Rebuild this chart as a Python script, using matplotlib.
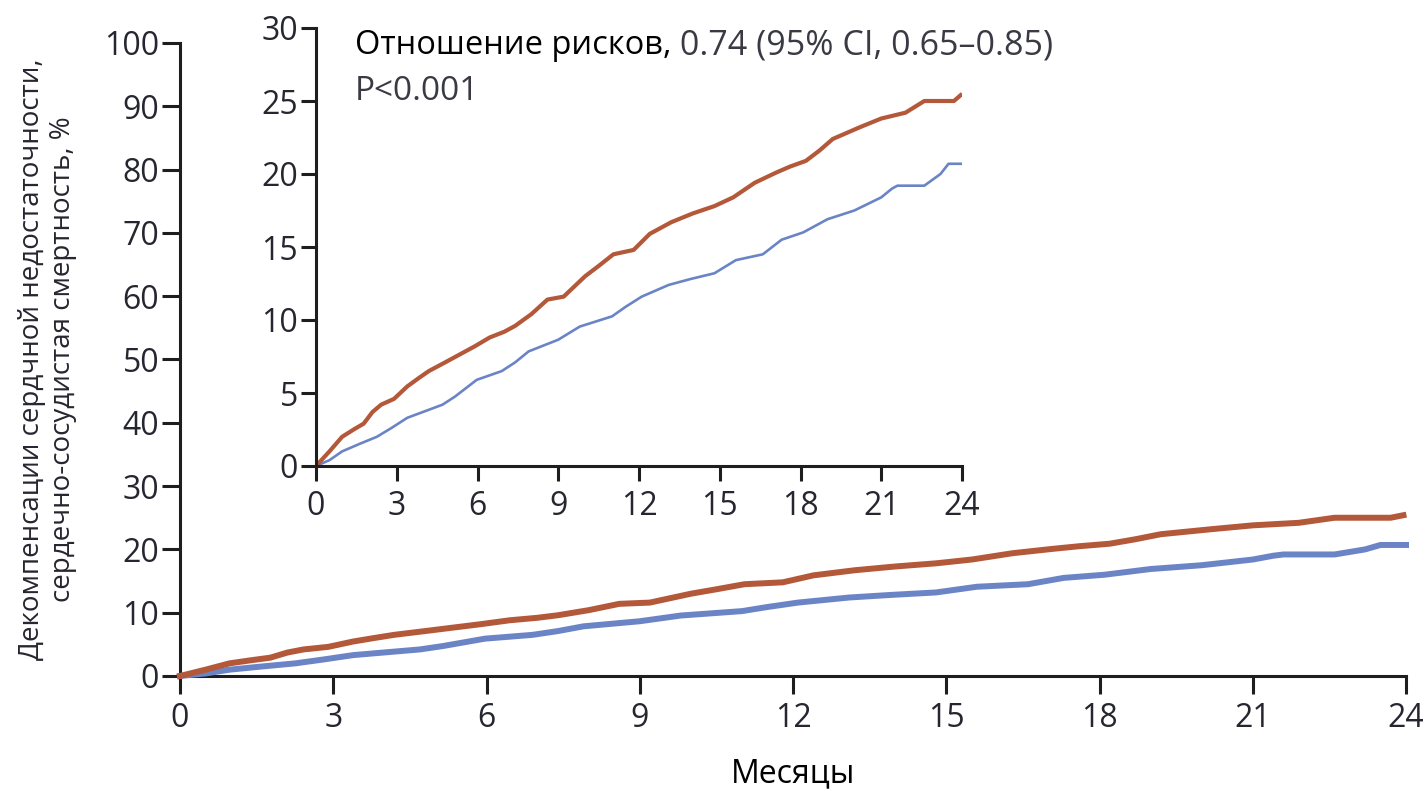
import matplotlib.pyplot as plt

plt.rcParams['font.family'] = ['Open Sans', 'DejaVu Sans']

# Кумулятивная частота событий, % (по месяцам наблюдения)
months_red = [0, 0.5, 0.97, 1.4, 1.77, 2.1, 2.42, 2.9, 3.39, 3.8, 4.19, 4.8,
              5.4, 5.9, 6.45, 7.0, 7.4, 8.0, 8.6, 9.2, 9.6, 10.0, 10.5,
              11.05, 11.8, 12.4, 13.2, 14.0, 14.8, 15.5, 16.3, 17.1, 17.6,
              18.2, 18.7, 19.2, 20.2, 21.0, 21.9, 22.6, 23.7, 23.95]
risk_red = [0, 1.0, 2.0, 2.5, 2.9, 3.7, 4.2, 4.6, 5.45, 6.0, 6.5, 7.1,
            7.7, 8.2, 8.8, 9.2, 9.6, 10.4, 11.4, 11.6, 12.3, 13.0, 13.7,
            14.5, 14.8, 15.9, 16.7, 17.3, 17.8, 18.4, 19.4, 20.1, 20.5,
            20.9, 21.6, 22.4, 23.2, 23.8, 24.2, 25.0, 25.0, 25.4]

months_blue = [0, 0.5, 0.97, 1.6, 2.26, 2.8, 3.39, 4.19, 4.7, 5.16, 5.97,
               6.9, 7.4, 7.9, 9.0, 9.8, 11.0, 11.5, 12.1, 13.1, 13.9, 14.8,
               15.6, 16.6, 17.3, 18.1, 19.0, 20.0, 21.0, 21.4, 21.6, 22.6,
               23.2, 23.5, 24.0]
risk_blue = [0, 0.4, 1.0, 1.5, 2.0, 2.6, 3.3, 3.85, 4.2, 4.75, 5.9,
             6.5, 7.1, 7.85, 8.65, 9.55, 10.25, 10.9, 11.6, 12.4, 12.8, 13.2,
             14.1, 14.5, 15.5, 16.0, 16.9, 17.5, 18.4, 19.0, 19.2, 19.2,
             20.0, 20.7, 20.7]

red = '#b4583a'
blue = '#6a84c6'
ink = '#262630'

fig = plt.figure(figsize=(14.28, 7.91), dpi=100)

# Основной график, шкала 0-100 %
ax = fig.add_axes([180 / 1428, 1 - 676 / 791, 1226 / 1428, 633 / 791])
ax.plot(months_blue, risk_blue, c=blue, lw=4.3, clip_on=False, zorder=3)
ax.plot(months_red, risk_red, c=red, lw=4.3, clip_on=False, zorder=4)
ax.set_xlim(0, 24)
ax.set_ylim(0, 100)
ax.set_xticks(range(0, 25, 3))
ax.set_yticks(range(0, 101, 10))
ax.set_xlabel('Месяцы', fontsize=23, color='black')
ax.xaxis.set_label_coords(0.5, -0.128)
ax.set_ylabel('Декомпенсации сердчной недостаточности,\n'
              'сердечно-сосудистая смертность, %',
              fontsize=20, color=ink, linespacing=1.15)
ax.yaxis.set_label_coords(-0.084, 0.5)

# Врезка с увеличенной шкалой 0-30 %
axi = fig.add_axes([316 / 1428, 1 - 466 / 791, 646 / 1428, 438 / 791])
axi.plot(months_blue, risk_blue, c=blue, lw=1.9)
axi.plot(months_red, risk_red, c=red, lw=3.0)
axi.set_xlim(0, 24)
axi.set_ylim(0, 30)
axi.set_xticks(range(0, 25, 3))
axi.set_yticks(range(0, 31, 5))
hr = axi.text(0.06, 0.94, 'Отношение рисков,', transform=axi.transAxes,
              fontsize=23.5, color='black', va='baseline')
axi.annotate(' 0.74 (95% CI, 0.65\u20130.85)', xy=(1, 0), xycoords=hr,
             fontsize=24.5, color='#3a3a44', va='bottom')
axi.text(0.06, 0.835, 'P<0.001', transform=axi.transAxes,
         fontsize=24, color='#3a3a44', va='baseline')

for a, tl in ((ax, 13), (axi, 11)):
    a.spines['top'].set_visible(False)
    a.spines['right'].set_visible(False)
    for s in ('left', 'bottom'):
        a.spines[s].set_linewidth(2.2)
        a.spines[s].set_color('#1e1e1e')
    a.tick_params(direction='out', length=tl, width=2.2, colors='#1e1e1e',
                  labelsize=23, labelcolor=ink)
    a.tick_params(axis='y', pad=2)
    a.tick_params(axis='x', pad=6)
    a.patch.set_alpha(0)

plt.savefig('out.png', dpi=100)
